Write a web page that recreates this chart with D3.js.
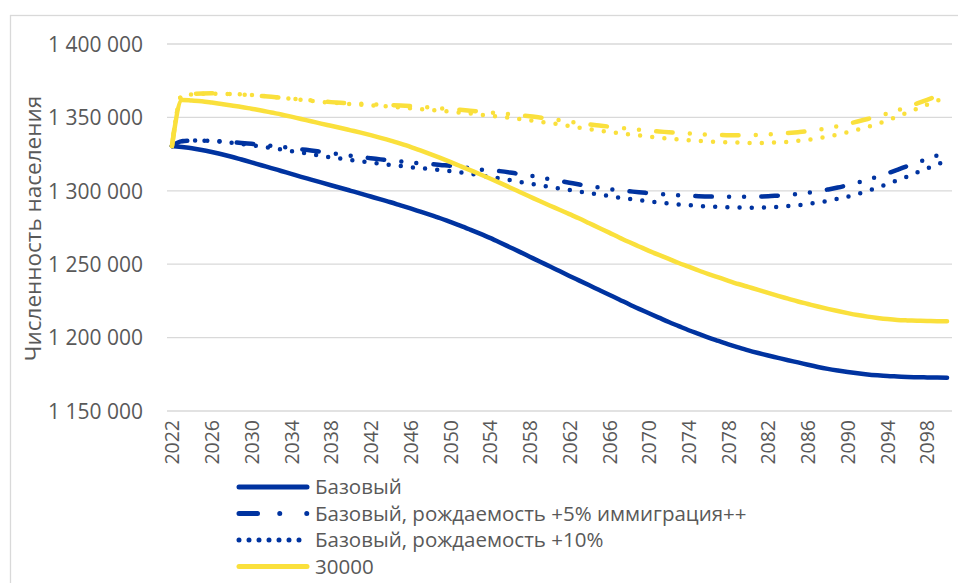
<!DOCTYPE html>
<html>
<head>
<meta charset="utf-8">
<script src="https://cdn.jsdelivr.net/npm/d3@7"></script>
<style>
  body { margin: 0; background: #fff; }
  svg text { font-family: "Segoe UI", "Open Sans", "Noto Sans", sans-serif; fill: #595959; }
</style>
</head>
<body>
<svg id="chart" width="958" height="583"></svg>
<script>
// годы прогноза
var years = d3.range(2022, 2101);
var xTickYears = [2022, 2026, 2030, 2034, 2038, 2042, 2046, 2050, 2054, 2058, 2062, 2066, 2070, 2074, 2078, 2082, 2086, 2090, 2094, 2098];
var yTicks = [1150000, 1200000, 1250000, 1300000, 1350000, 1400000];

var seriesNames = ["Базовый", "Базовый, рождаемость +5% иммиграция++", "Базовый, рождаемость +10%", "30000",
    "30000, рождаемость +5% иммиграция++", "30000, рождаемость +10%"];

var bazovy = [1330500,1329800,1329000,1327800,1326400,1324900,1323200,1321300,1319400,1317400,
    1315500,1313500,1311500,1309500,1307600,1305700,1303800,1301900,1300000,1298100,
    1296100,1294100,1292200,1290100,1288000,1285800,1283600,1281300,1278800,1276300,
    1273600,1270800,1267900,1264800,1261600,1258400,1255100,1251800,1248600,1245300,
    1242000,1238800,1235600,1232400,1229200,1226000,1222700,1219600,1216600,1213600,
    1210600,1207800,1205000,1202500,1200000,1197700,1195400,1193300,1191300,1189500,
    1187800,1186200,1184600,1183100,1181500,1180000,1178700,1177600,1176600,1175700,
    1174900,1174300,1173800,1173500,1173200,1173000,1172900,1172800,1172700];

var bazovyImm = [1330500,1333800,1334100,1334100,1333900,1333600,1333100,1332600,1332000,1331400,
    1330700,1330000,1329200,1328300,1327500,1326600,1325700,1324800,1323900,1323000,
    1322200,1321400,1320600,1320000,1319300,1318800,1318300,1317600,1317000,1316200,
    1315400,1314500,1314000,1313400,1312500,1311400,1310400,1309100,1307900,1306700,
    1305500,1304300,1303200,1302200,1301200,1300400,1299700,1299000,1298400,1297800,
    1297300,1296900,1296600,1296300,1296100,1296000,1295900,1295900,1296000,1296100,
    1296300,1296700,1297100,1297800,1298600,1299700,1300900,1302200,1303800,1305600,
    1307600,1309700,1311900,1314300,1316800,1319200,1321700,1324000,1326400];

var bazovy10 = [1330500,1333900,1334200,1334200,1333900,1333400,1332700,1331900,1331000,1330100,
    1329200,1328100,1327100,1326000,1324900,1323800,1322800,1321900,1321000,1320100,
    1319300,1318500,1317600,1316900,1316100,1315500,1314800,1314100,1313400,1312500,
    1311600,1310600,1309500,1308400,1307300,1306100,1305000,1303800,1302700,1301600,
    1300500,1299500,1298400,1297400,1296400,1295400,1294500,1293600,1292800,1292000,
    1291400,1290700,1290200,1289700,1289300,1289000,1288700,1288600,1288500,1288600,
    1288800,1289100,1289600,1290200,1291000,1292000,1293100,1294500,1296000,1297900,
    1299900,1302200,1304600,1307200,1309700,1312500,1315200,1317900,1320600];

var s30000 = [1330500,1361900,1361500,1361000,1360100,1359100,1358100,1357100,1355900,1354700,
    1353300,1352000,1350500,1348900,1347400,1345800,1344300,1342800,1341200,1339600,
    1337900,1336100,1334200,1332100,1329900,1327500,1325000,1322400,1319700,1316900,
    1314100,1311300,1308400,1305400,1302300,1299200,1296100,1293000,1290000,1287100,
    1284100,1281100,1277900,1274700,1271500,1268200,1265100,1262100,1259100,1256300,
    1253600,1250800,1248300,1245700,1243300,1241000,1238700,1236500,1234500,1232500,
    1230400,1228400,1226500,1224600,1222900,1221200,1219600,1218100,1216700,1215400,
    1214300,1213400,1212600,1212000,1211700,1211500,1211300,1211200,1211100];

var s30000Imm = [1330500,1364900,1365900,1366300,1366400,1366300,1365900,1365600,1365100,1364600,
    1364000,1363400,1362800,1362200,1361600,1361000,1360400,1359900,1359500,1359300,
    1359000,1358700,1358400,1358100,1357700,1357200,1356700,1356200,1355700,1355200,
    1354600,1354000,1353400,1352800,1352200,1351500,1350800,1349900,1349000,1348100,
    1347100,1346200,1345300,1344500,1343700,1343000,1342200,1341600,1340900,1340400,
    1339900,1339400,1339000,1338600,1338300,1338000,1337900,1337800,1337900,1338100,
    1338400,1338800,1339300,1339900,1340600,1341600,1342700,1344100,1345600,1347200,
    1348900,1350800,1352700,1354800,1357100,1359500,1362000,1364600,1367100];

var s3000010 = [1330500,1364900,1365700,1366100,1366100,1366100,1365900,1365700,1365300,1364700,
    1364100,1363400,1362700,1361900,1361200,1360600,1360100,1359600,1359100,1358700,
    1358200,1357800,1357300,1356700,1356200,1355700,1355100,1354600,1354000,1353300,
    1352700,1351900,1351200,1350400,1349700,1348800,1348000,1347100,1346200,1345200,
    1344100,1343000,1342000,1341000,1340100,1339200,1338400,1337700,1336900,1336200,
    1335600,1335000,1334500,1334000,1333600,1333200,1333000,1332800,1332600,1332600,
    1332800,1333000,1333400,1334000,1334700,1335700,1336900,1338300,1339900,1341600,
    1343500,1345600,1348000,1350500,1353200,1355900,1358700,1361300,1363900];

var seriesValues = [bazovy, bazovyImm, bazovy10, s30000, s30000Imm, s3000010];

var blue = "#0033a0", yellow = "#fae03c";
var seriesColors = [blue, blue, blue, yellow, yellow, yellow];
var dashChart = [null, "16.5 17.25 0 15 0 17.25", "0 12.2", null, "16.5 17.25 0 15 0 17.25", "0 12.2"];
var dashLegend = [null, "18.5 22.25 0 27 0 100", "0 10", null];

var svg = d3.select("#chart");
var plotLeft = 167, plotRight = 952, plotTop = 44, plotBottom = 411;

// рамка области диаграммы
svg.append("rect")
    .attr("x", 10.5).attr("y", 15.5)
    .attr("width", 980).attr("height", 620)
    .attr("fill", "#fff")
    .attr("stroke", "#d9d9d9")
    .attr("stroke-width", 1.3);

var x = d3.scalePoint().domain(years).range([plotLeft, plotRight]).padding(0.5);
var y = d3.scaleLinear().domain([1150000, 1400000]).range([plotBottom, plotTop]);

function fmt(v) {
    return d3.format(",")(v).replace(/,/g, " ");
}

// сетка
svg.append("g").selectAll("line").data(yTicks).enter().append("line")
    .attr("x1", plotLeft).attr("x2", plotRight)
    .attr("y1", function (d) { return y(d); })
    .attr("y2", function (d) { return y(d); })
    .attr("stroke", "#d9d9d9")
    .attr("stroke-width", 1.3);

// подписи оси Y
var yAxis = d3.axisLeft(y).tickValues(yTicks).tickFormat(fmt).tickSize(0).tickPadding(0);
var gy = svg.append("g")
    .attr("transform", "translate(143,0)")
    .call(yAxis);
gy.select(".domain").remove();
gy.selectAll("text")
    .attr("font-size", 21)
    .attr("fill", "#595959")
    .attr("dy", "0.35em");

// подписи оси X
var xAxis = d3.axisBottom(x).tickValues(xTickYears).tickSize(0).tickPadding(0);
var gx = svg.append("g")
    .attr("transform", "translate(0," + plotBottom + ")")
    .call(xAxis);
gx.select(".domain").remove();
gx.selectAll("text")
    .attr("font-size", 19.5)
    .attr("fill", "#595959")
    .attr("text-anchor", "end")
    .attr("dy", "0.35em")
    .attr("y", 0)
    .attr("transform", "translate(0,9) rotate(-90)");

// название оси Y
svg.append("text")
    .attr("transform", "translate(33," + ((plotTop + plotBottom) / 2 + 1) + ") rotate(-90)")
    .attr("text-anchor", "middle")
    .attr("dy", "0.35em")
    .attr("font-size", 22.5)
    .text("Численность населения");

// линии
var line = d3.line()
    .x(function (d, i) { return x(years[i]); })
    .y(function (d) { return y(d); })
    .curve(d3.curveMonotoneX);

for (let i = 0; i < seriesValues.length; i++) {
    svg.append("path")
        .attr("d", line(seriesValues[i]))
        .attr("fill", "none")
        .attr("stroke", seriesColors[i])
        .attr("stroke-width", 4.5)
        .attr("stroke-linecap", "round")
        .attr("stroke-linejoin", "round")
        .attr("stroke-dasharray", dashChart[i]);
}

// легенда (видны только первые четыре строки)
var legendY = [487, 513.5, 540, 566.5];
for (let i = 0; i < 4; i++) {
    svg.append("line")
        .attr("x1", 239).attr("x2", 307)
        .attr("y1", legendY[i]).attr("y2", legendY[i])
        .attr("stroke", seriesColors[i])
        .attr("stroke-width", 5)
        .attr("stroke-linecap", "round")
        .attr("stroke-dasharray", dashLegend[i]);
    svg.append("text")
        .attr("x", 315).attr("y", legendY[i])
        .attr("dy", "0.35em")
        .attr("font-size", 20.5)
        .text(seriesNames[i]);
}
</script>
</body>
</html>
